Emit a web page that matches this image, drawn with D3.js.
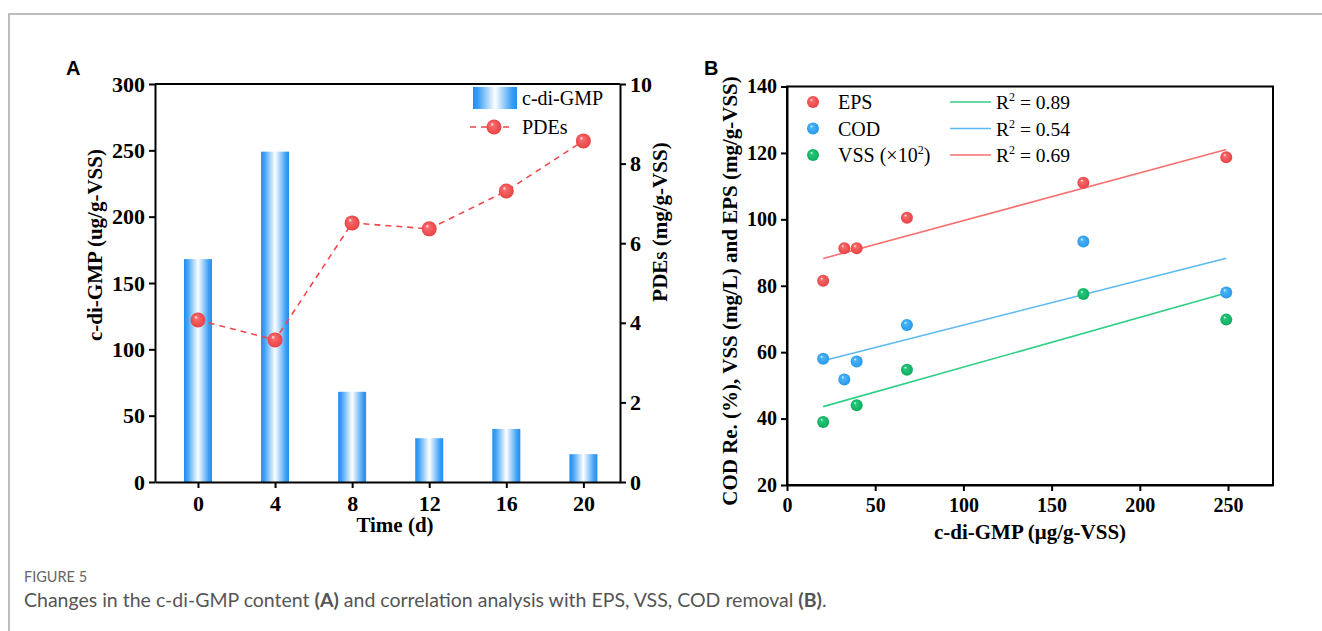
<!DOCTYPE html>
<html>
<head>
<meta charset="utf-8">
<script src="https://cdn.jsdelivr.net/npm/d3@7"></script>
<style>
  body { margin: 0; background: #fff; }
  svg { display: block; }
  .axis text { font-family: "Liberation Serif", "Times New Roman", serif; font-weight: bold; fill: #000; }
  .axisA text { font-size: 22px; }
  .axisB text { font-size: 20px; }
  .axis path, .axis line { stroke: #000; stroke-width: 2; }
  .title { font-family: "Liberation Serif", serif; font-weight: bold; font-size: 21px; }
  .leg { font-family: "Liberation Serif", serif; font-size: 20px; }
  .legR { font-family: "Liberation Serif", serif; font-size: 19.5px; }
  .panel { font-family: "Liberation Sans", Arial, sans-serif; font-weight: bold; font-size: 20px; }
</style>
</head>
<body>
<div id="chart"></div>
<script>
// Panel A data
const days = [0, 4, 8, 12, 16, 20];
const cdiGMP = [168, 249, 68, 33, 40, 21];
const pdes = [4.07, 3.57, 6.51, 6.36, 7.31, 8.57];

// Panel B data
const cdiX = [20.5, 32.5, 39.5, 68, 168, 249];
const eps = [81.5, 91.3, 91.3, 100.5, 111, 118.7];
const cod = [58, 51.8, 57.2, 68.2, 93.3, 78];
const vssX = [20.5, 39.5, 68, 168, 249];
const vss = [39, 44, 54.7, 77.5, 69.8];
// fitted lines: [x0, y0, x1, y1]
const fitEPS = [20.5, 88.2, 249, 121];
const fitCOD = [20.5, 57.4, 249, 88.3];
const fitVSS = [20.5, 43.6, 249, 77.8];
const r2Labels = ["0.89", "0.54", "0.69"];

const width = 1322, height = 631;
const svg = d3.select("#chart").append("svg")
  .attr("width", width).attr("height", height);

const defs = svg.append("defs");

// bar gradient: blue at the edges, white in the middle
const barGrad = defs.append("linearGradient").attr("id", "barGrad")
  .attr("x1", "0%").attr("x2", "100%").attr("y1", "0%").attr("y2", "0%");
barGrad.append("stop").attr("offset", "0%").attr("stop-color", "#1f8ef0");
barGrad.append("stop").attr("offset", "12%").attr("stop-color", "#3da0f5");
barGrad.append("stop").attr("offset", "50%").attr("stop-color", "#ffffff");
barGrad.append("stop").attr("offset", "88%").attr("stop-color", "#3da0f5");
barGrad.append("stop").attr("offset", "100%").attr("stop-color", "#1f8ef0");

// sphere-like markers
function sphere(id, base, dark) {
  const g = defs.append("radialGradient").attr("id", id)
    .attr("cx", "50%").attr("cy", "50%").attr("r", "55%")
    .attr("fx", "35%").attr("fy", "30%");
  g.append("stop").attr("offset", "0%").attr("stop-color", "#ffffff");
  g.append("stop").attr("offset", "22%").attr("stop-color", base);
  g.append("stop").attr("offset", "100%").attr("stop-color", dark);
}
sphere("sRed", "#f76a6a", "#e63e40");
sphere("sBlue", "#4ab4f7", "#2596e8");
sphere("sGreen", "#22c87a", "#10a85c");

// figure frame
svg.append("path")
  .attr("d", `M9,${height} V14 H${width}`)
  .attr("fill", "none").attr("stroke", "#bdbdbd").attr("stroke-width", 2);

// ---------- Panel A ----------
const ax = d3.scaleLinear().domain([-2.23, 21.9]).range([155, 620]);
const ayL = d3.scaleLinear().domain([0, 300]).range([482, 84]);
const ayR = d3.scaleLinear().domain([0, 10]).range([482, 84]);

const gA = svg.append("g");

gA.selectAll(".bar")
  .data(days)
  .enter().append("rect")
  .attr("class", "bar")
  .attr("x", d => ax(d) - 14)
  .attr("width", 28)
  .attr("y", (d, i) => ayL(cdiGMP[i]))
  .attr("height", (d, i) => ayL(0) - ayL(cdiGMP[i]))
  .attr("fill", "url(#barGrad)");

// top frame line
gA.append("line")
  .attr("x1", 155).attr("x2", 620).attr("y1", 84).attr("y2", 84)
  .attr("stroke", "#000").attr("stroke-width", 2);

gA.append("g").attr("class", "axis axisA")
  .attr("transform", "translate(155,0)")
  .call(d3.axisLeft(ayL).tickValues([0, 50, 100, 150, 200, 250, 300]).tickSize(6).tickSizeOuter(0).tickPadding(4));

gA.append("g").attr("class", "axis axisA")
  .attr("transform", "translate(620,0)")
  .call(d3.axisRight(ayR).tickValues([0, 2, 4, 6, 8, 10]).tickSize(6).tickSizeOuter(0).tickPadding(4));

gA.append("g").attr("class", "axis axisA")
  .attr("transform", "translate(0,482)")
  .call(d3.axisBottom(ax).tickValues(days).tickSize(6).tickSizeOuter(0).tickPadding(7));

const pdeLine = d3.line()
  .x((d, i) => ax(days[i]))
  .y(d => ayR(d));

gA.append("path")
  .datum(pdes)
  .attr("d", pdeLine)
  .attr("fill", "none")
  .attr("stroke", "#f0474a")
  .attr("stroke-width", 1.6)
  .attr("stroke-dasharray", "6,5");

gA.selectAll(".pde")
  .data(pdes)
  .enter().append("circle")
  .attr("class", "pde")
  .attr("cx", (d, i) => ax(days[i]))
  .attr("cy", d => ayR(d))
  .attr("r", 7.5)
  .attr("fill", "url(#sRed)");

gA.append("text").attr("class", "title")
  .attr("transform", "translate(102,245) rotate(-90)")
  .attr("text-anchor", "middle")
  .text("c-di-GMP (ug/g-VSS)");

gA.append("text").attr("class", "title")
  .attr("transform", "translate(667,222) rotate(-90)")
  .attr("text-anchor", "middle")
  .text("PDEs (mg/g-VSS)");

gA.append("text").attr("class", "title")
  .attr("x", 395).attr("y", 532)
  .attr("text-anchor", "middle")
  .text("Time (d)");

// legend A
gA.append("rect")
  .attr("x", 473).attr("y", 87).attr("width", 44).attr("height", 22)
  .attr("fill", "url(#barGrad)");
gA.append("text").attr("class", "leg").attr("x", 522).attr("y", 105).text("c-di-GMP");
gA.append("line")
  .attr("x1", 470).attr("x2", 512).attr("y1", 127).attr("y2", 127)
  .attr("stroke", "#f0474a").attr("stroke-width", 1.6).attr("stroke-dasharray", "6,5");
gA.append("circle").attr("cx", 494).attr("cy", 127).attr("r", 7.5).attr("fill", "url(#sRed)");
gA.append("text").attr("class", "leg").attr("x", 522).attr("y", 134).text("PDEs");

gA.append("text").attr("class", "panel").attr("x", 66).attr("y", 75).text("A");

// ---------- Panel B ----------
const bx = d3.scaleLinear().domain([0, 275.5]).range([787, 1273]);
const by = d3.scaleLinear().domain([20, 140]).range([485, 86.5]);

const gB = svg.append("g");

gB.append("rect")
  .attr("x", 787).attr("y", 86.5).attr("width", 1273 - 787).attr("height", 485 - 86.5)
  .attr("fill", "none").attr("stroke", "#000").attr("stroke-width", 2);

gB.append("g").attr("class", "axis axisB")
  .attr("transform", "translate(787,0)")
  .call(d3.axisLeft(by).tickValues([20, 40, 60, 80, 100, 120, 140]).tickSize(6).tickSizeOuter(0).tickPadding(4));

gB.append("g").attr("class", "axis axisB")
  .attr("transform", "translate(0,485)")
  .call(d3.axisBottom(bx).tickValues([0, 50, 100, 150, 200, 250]).tickSize(6).tickSizeOuter(0).tickPadding(7));

const fits = [
  { f: fitVSS, c: "#2fcf85" },
  { f: fitCOD, c: "#5ab9f2" },
  { f: fitEPS, c: "#f77070" }
];
gB.selectAll(".fit")
  .data(fits)
  .enter().append("line")
  .attr("class", "fit")
  .attr("x1", d => bx(d.f[0])).attr("y1", d => by(d.f[1]))
  .attr("x2", d => bx(d.f[2])).attr("y2", d => by(d.f[3]))
  .attr("stroke", d => d.c).attr("stroke-width", 1.6);

function dots(xs, ys, fill) {
  gB.append("g").selectAll("circle")
    .data(ys)
    .enter().append("circle")
    .attr("cx", (d, i) => bx(xs[i]))
    .attr("cy", d => by(d))
    .attr("r", 6)
    .attr("fill", fill);
}
dots(cdiX, eps, "url(#sRed)");
dots(cdiX, cod, "url(#sBlue)");
dots(vssX, vss, "url(#sGreen)");

// legend B
const legDots = [
  { label: "EPS", fill: "url(#sRed)" },
  { label: "COD", fill: "url(#sBlue)" },
  { label: "VSS (×10", fill: "url(#sGreen)" }
];
legDots.forEach((d, i) => {
  const y = 102 + i * 26.5;
  gB.append("circle").attr("cx", 813).attr("cy", y).attr("r", 6).attr("fill", d.fill);
  const t = gB.append("text").attr("class", "leg").attr("x", 838).attr("y", y + 7).text(d.label);
  if (i === 2) {
    t.append("tspan").attr("font-size", 12).attr("dy", -8).text("2");
    t.append("tspan").attr("dy", 8).text(")");
  }
});
const legLines = ["#2fcf85", "#5ab9f2", "#f77070"];
legLines.forEach((c, i) => {
  const y = 102 + i * 26.5;
  gB.append("line").attr("x1", 950).attr("x2", 991).attr("y1", y).attr("y2", y)
    .attr("stroke", c).attr("stroke-width", 1.6);
  const t = gB.append("text").attr("class", "legR").attr("x", 996).attr("y", y + 7).text("R");
  t.append("tspan").attr("font-size", 12).attr("dy", -8).text("2");
  t.append("tspan").attr("dy", 8).text(" = " + r2Labels[i]);
});

gB.append("text").attr("class", "title")
  .attr("transform", "translate(737,291) rotate(-90)")
  .attr("text-anchor", "middle")
  .text("COD Re. (%), VSS (mg/L) and EPS (mg/g-VSS)");

gB.append("text").attr("class", "title")
  .attr("x", 1030).attr("y", 539)
  .attr("text-anchor", "middle")
  .text("c-di-GMP (μg/g-VSS)");

gB.append("text").attr("class", "panel").attr("x", 704).attr("y", 75).text("B");

// ---------- caption ----------
svg.append("text")
  .attr("x", 24).attr("y", 582)
  .attr("font-family", "Lato, 'Open Sans', sans-serif")
  .attr("font-size", 14.5).attr("fill", "#666")
  .text("FIGURE 5");

const cap = svg.append("text")
  .attr("x", 24).attr("y", 607)
  .attr("font-family", "Lato, 'Open Sans', sans-serif")
  .attr("font-size", 19.5).attr("fill", "#555");
cap.append("tspan").text("Changes in the c-di-GMP content ");
cap.append("tspan").attr("font-weight", "bold").text("(A)");
cap.append("tspan").text(" and correlation analysis with EPS, VSS, COD removal ");
cap.append("tspan").attr("font-weight", "bold").text("(B)");
cap.append("tspan").text(".");
</script>
</body>
</html>
